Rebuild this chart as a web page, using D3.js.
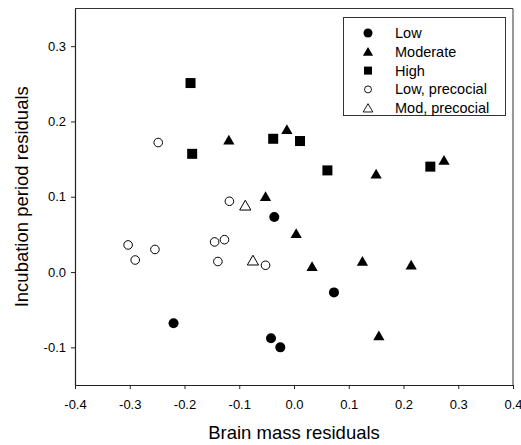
<!DOCTYPE html>
<html>
<head>
<meta charset="utf-8">
<script src="https://cdn.jsdelivr.net/npm/d3@7"></script>
<style>
  body { margin: 0; background: #fff; }
  svg text { font-family: "Liberation Sans", Arial, sans-serif; fill: #000; }
</style>
</head>
<body>
<div id="chart"></div>
<script>
// data
var lowX = [-0.036, 0.073, -0.220, -0.042, -0.025];
var lowY = [0.073, -0.027, -0.068, -0.088, -0.100];

var modX = [-0.119, -0.013, 0.150, 0.274, -0.052, 0.004, 0.033, 0.125, 0.214, 0.155];
var modY = [0.175, 0.189, 0.130, 0.148, 0.100, 0.051, 0.007, 0.014, 0.009, -0.085];

var highX = [-0.189, -0.186, -0.038, 0.011, 0.061, 0.249];
var highY = [0.251, 0.157, 0.177, 0.174, 0.135, 0.140];

var lowPreX = [-0.248, -0.118, -0.303, -0.254, -0.290, -0.145, -0.127, -0.139, -0.052];
var lowPreY = [0.172, 0.094, 0.036, 0.030, 0.016, 0.040, 0.043, 0.014, 0.009];

var modPreX = [-0.089, -0.075];
var modPreY = [0.088, 0.015];

var xTicks = [-0.4, -0.3, -0.2, -0.1, 0.0, 0.1, 0.2, 0.3, 0.4];
var yTicks = [-0.1, 0.0, 0.1, 0.2, 0.3];
var legendLabels = ["Low", "Moderate", "High", "Low, precocial", "Mod, precocial"];

var width = 521, height = 445;
var margin = {top: 8.5, right: 8, bottom: 60, left: 75};

var svg = d3.select("#chart").append("svg")
  .attr("width", width)
  .attr("height", height);

var x = d3.scaleLinear().domain([-0.4, 0.4]).range([margin.left, width - margin.right]);
var y = d3.scaleLinear().domain([-0.15, 0.35]).range([height - margin.bottom, margin.top]);

// frame on top and right
svg.append("line")
  .attr("x1", x(-0.4)).attr("x2", x(0.4))
  .attr("y1", y(0.35)).attr("y2", y(0.35))
  .attr("stroke", "#333").attr("stroke-width", 1);
svg.append("line")
  .attr("x1", x(0.4)).attr("x2", x(0.4))
  .attr("y1", y(0.35)).attr("y2", y(-0.15))
  .attr("stroke", "#333").attr("stroke-width", 1);

var xAxis = svg.append("g")
  .attr("transform", "translate(0," + y(-0.15) + ")")
  .call(d3.axisBottom(x).tickValues(xTicks).tickFormat(d3.format(".1f")).tickSize(4).tickSizeOuter(0));
var yAxis = svg.append("g")
  .attr("transform", "translate(" + x(-0.4) + ",0)")
  .call(d3.axisLeft(y).tickValues(yTicks).tickFormat(d3.format(".1f")).tickSize(4).tickSizeOuter(0));

[xAxis, yAxis].forEach(function(a){
  a.select(".domain").attr("stroke", "#222").attr("stroke-width", 1.2);
  a.selectAll(".tick line").attr("stroke", "#222");
  a.selectAll(".tick text")
    .attr("font-family", "Liberation Sans, Arial, sans-serif")
    .attr("font-size", 13).attr("fill", "#000");
});
xAxis.selectAll(".tick text").attr("dy", "1.3em");
yAxis.selectAll(".tick text").attr("x", -9);
// minus sign as plain hyphen like the original
xAxis.selectAll(".tick text").text(function(d){ return d.toFixed(1); });
yAxis.selectAll(".tick text").text(function(d){ return d.toFixed(1); });

svg.append("text")
  .attr("x", x(0)).attr("y", 439)
  .attr("text-anchor", "middle")
  .attr("font-size", 18.5)
  .text("Brain mass residuals");

svg.append("text")
  .attr("transform", "translate(28," + y(0.1) + ") rotate(-90)")
  .attr("text-anchor", "middle")
  .attr("font-size", 18.5)
  .text("Incubation period residuals");

function pairs(xs, ys){ return xs.map(function(v, i){ return {x: v, y: ys[i]}; }); }

var tri = d3.symbol().type(d3.symbolTriangle).size(55);

// marker drawing helpers
function drawCircle(g, cx, cy, filled){
  g.append("circle").attr("cx", cx).attr("cy", cy)
    .attr("r", filled ? 5 : 4.3)
    .attr("fill", filled ? "#000" : "#fff")
    .attr("stroke", "#000").attr("stroke-width", filled ? 0 : 1);
}
function drawTri(g, cx, cy, filled){
  g.append("path").attr("d", tri)
    .attr("transform", "translate(" + cx + "," + (cy + 1) + ")")
    .attr("fill", filled ? "#000" : "#fff")
    .attr("stroke", "#000").attr("stroke-width", filled ? 0 : 1);
}
function drawSquare(g, cx, cy){
  g.append("rect").attr("x", cx - 5).attr("y", cy - 5)
    .attr("width", 10).attr("height", 10).attr("fill", "#000");
}

var pts = svg.append("g");
pairs(lowPreX, lowPreY).forEach(function(d){ drawCircle(pts, x(d.x), y(d.y), false); });
pairs(modPreX, modPreY).forEach(function(d){ drawTri(pts, x(d.x), y(d.y), false); });
pairs(lowX, lowY).forEach(function(d){ drawCircle(pts, x(d.x), y(d.y), true); });
pairs(modX, modY).forEach(function(d){ drawTri(pts, x(d.x), y(d.y), true); });
pairs(highX, highY).forEach(function(d){ drawSquare(pts, x(d.x), y(d.y)); });

// legend
var leg = svg.append("g");
leg.append("rect")
  .attr("x", 343.5).attr("y", 17.5).attr("width", 162).attr("height", 98)
  .attr("fill", "#fff").attr("stroke", "#333").attr("stroke-width", 1);

legendLabels.forEach(function(label, i){
  var cy = 33 + i * 18.8;
  var g = leg.append("g");
  if (i == 0) g.append("circle").attr("cx", 368).attr("cy", cy).attr("r", 4.5).attr("fill", "#000");
  if (i == 1) g.append("path").attr("d", d3.symbol().type(d3.symbolTriangle).size(45)).attr("transform", "translate(368," + (cy + 1) + ")");
  if (i == 2) g.append("rect").attr("x", 364).attr("y", cy - 4).attr("width", 8).attr("height", 8).attr("fill", "#000");
  if (i == 3) g.append("circle").attr("cx", 368).attr("cy", cy).attr("r", 3.5).attr("fill", "#fff").attr("stroke", "#000").attr("stroke-width", 0.9);
  if (i == 4) g.append("path").attr("d", d3.symbol().type(d3.symbolTriangle).size(40)).attr("transform", "translate(368," + (cy + 1) + ")")
    .attr("fill", "#fff").attr("stroke", "#000").attr("stroke-width", 0.9);
  g.append("text").attr("x", 395).attr("y", cy + 5)
    .attr("font-size", 14.5)
    .text(label);
});
</script>
</body>
</html>
